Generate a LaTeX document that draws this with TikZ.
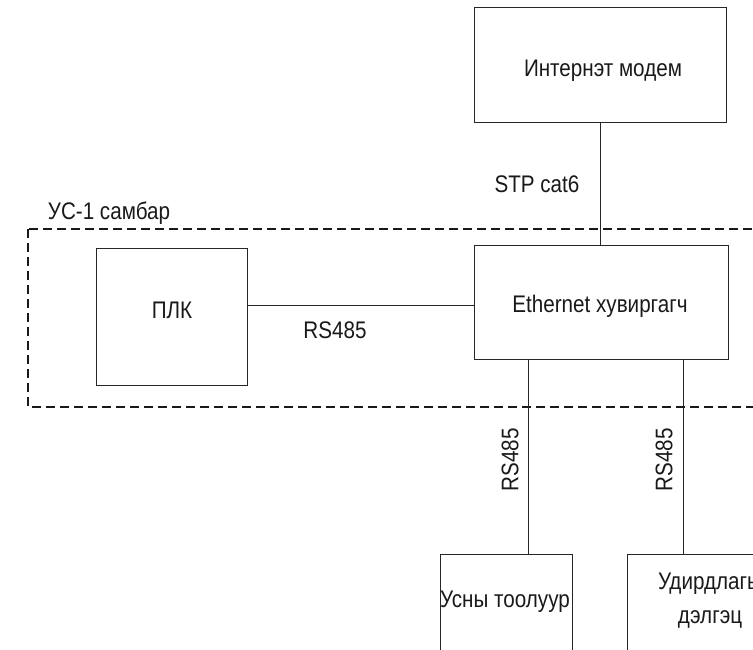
\documentclass[tikz,border=0pt]{standalone}
\usepackage{fontspec}
\setmainfont[FakeStretch=0.86]{Liberation Sans}
\begin{document}
\begin{tikzpicture}[x=1pt,y=-1pt,
  box/.style={draw=black!85, line width=0.9pt, inner sep=0pt},
  lbl/.style={font=\fontsize{24}{34}\selectfont, text=black!90, inner sep=0pt},
  wire/.style={draw=black!85, line width=0.9pt},
  panelline/.style={draw=black!90, line width=1.5pt, dash pattern=on 9pt off 5pt}]
\useasboundingbox (0,0) rectangle (753,649);
\begin{scope}
\clip (0,0) rectangle (753,649);
% boxes
\node[box, minimum width=252pt, minimum height=115pt] (modem) at (600,64.5) {};
\node[box, minimum width=254pt, minimum height=114pt] (switch) at (601,302) {};
\node[box, minimum width=151pt, minimum height=137pt] (plc) at (171.5,316.5) {};
\node[box, minimum width=132pt, minimum height=120pt] (meter) at (506,614) {};
\node[box, minimum width=175pt, minimum height=120pt] (display) at (714.5,614) {};
\node[lbl] (modemtxt) at (603,71) {Интернэт модем};
\node[lbl] (switchtxt) at (600,306) {Ethernet хувиргагч};
\node[lbl] (plctxt) at (172,310) {ПЛК};
\node[lbl] (metertxt) at (505,602) {Усны тоолуур};
\node[lbl, align=center] (displaytxt) at (710,601) {Удирдлагы\\дэлгэц};
% panel
\draw[panelline] (28,229) rectangle (800,407);
\node[lbl] (panellbl) at (109,213) {УС-1 самбар};
% connectors
\coordinate (l1) at (0,305);
\coordinate (d1) at (528,0);
\coordinate (d2) at (683,0);
\draw[wire] (modem.south) -- (modem.south |- switch.north);
\draw[wire] (plc.east |- l1) -- (switch.west |- l1);
\draw[wire] (switch.south -| d1) -- (meter.north -| d1);
\draw[wire] (switch.south -| d2) -- (display.north -| d2);
% connector labels
\node[lbl] (stp) at (537,184) {STP cat6};
\node[lbl] (rs1) at (335,330) {RS485};
\node[lbl, rotate=90] (rs2) at (510,460) {RS485};
\node[lbl, rotate=90] (rs3) at (664,460) {RS485};
\end{scope}
\end{tikzpicture}
\end{document}
